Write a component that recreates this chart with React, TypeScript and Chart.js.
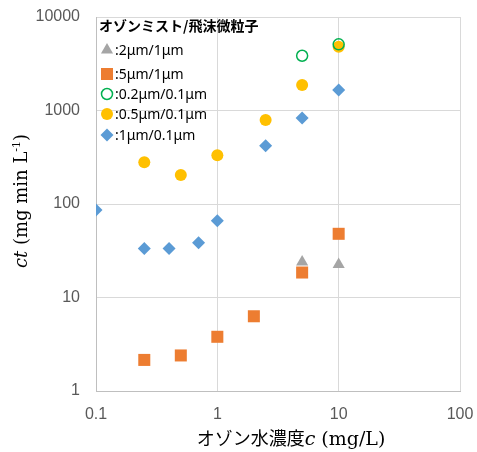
import React, { useEffect, useRef } from "react";
import { Chart, registerables } from "chart.js";

Chart.register(...registerables);

// ---- data ----
const triX = [5, 10];
const triY = [24, 22.5];
const sqX = [0.25, 0.5, 1, 2, 5, 10];
const sqY = [2.15, 2.4, 3.8, 6.3, 18.5, 48];
const greenX = [5, 10];
const greenY = [3850, 5100];
const yelX = [0.25, 0.5, 1, 2.5, 5, 10];
const yelY = [279, 204, 332, 790, 1870, 4800];
const blueX = [0.1, 0.25, 0.4, 0.7, 1, 2.5, 5, 10];
const blueY = [86, 33.5, 33.5, 38.5, 66, 420, 832, 1655];

const xTicks = [0.1, 1, 10, 100];
const yTicks = [1, 10, 100, 1000, 10000];

const legendTitle = "オゾンミスト/飛沫微粒子";
const seriesLabels = [":2μm/1μm", ":5μm/1μm", ":0.2μm/0.1μm", ":0.5μm/0.1μm", ":1μm/0.1μm"];

const toPts = (xs: number[], ys: number[]) => xs.map((x, i) => ({ x, y: ys[i] }));

const SANS = "'Liberation Sans', Arial, sans-serif";
const SERIF = "'DejaVu Serif', 'Liberation Serif', serif";
const CJK = "'Noto Sans CJK JP', sans-serif";

function drawMarker(ctx: CanvasRenderingContext2D, style: string, x: number, y: number, r: number, fill: string, stroke: string, lw: number) {
  ctx.save();
  ctx.beginPath();
  if (style === "triangle") {
    ctx.moveTo(x, y - r);
    ctx.lineTo(x + r * Math.sin((2 * Math.PI) / 3), y - r * Math.cos((2 * Math.PI) / 3));
    ctx.lineTo(x + r * Math.sin((4 * Math.PI) / 3), y - r * Math.cos((4 * Math.PI) / 3));
    ctx.closePath();
  } else if (style === "rect") {
    const s = r * Math.SQRT1_2;
    ctx.rect(x - s, y - s, 2 * s, 2 * s);
  } else if (style === "rectRot") {
    ctx.moveTo(x - r, y);
    ctx.lineTo(x, y - r);
    ctx.lineTo(x + r, y);
    ctx.lineTo(x, y + r);
    ctx.closePath();
  } else {
    ctx.arc(x, y, r, 0, Math.PI * 2);
  }
  if (fill && fill !== "transparent") {
    ctx.fillStyle = fill;
    ctx.fill();
  }
  if (lw > 0) {
    ctx.strokeStyle = stroke;
    ctx.lineWidth = lw;
    ctx.stroke();
  }
  ctx.restore();
}

type Seg = { text: string; font: string; sup?: boolean };

function drawSegs(ctx: CanvasRenderingContext2D, segs: Seg[], cx: number, cy: number) {
  let total = 0;
  const widths = segs.map((s) => {
    ctx.font = s.font;
    const w = ctx.measureText(s.text).width;
    total += w;
    return w;
  });
  let x = cx - total / 2;
  segs.forEach((s, i) => {
    ctx.font = s.font;
    ctx.textBaseline = "alphabetic";
    ctx.textAlign = "left";
    ctx.fillText(s.text, x, cy + (s.sup ? -7 : 0));
    x += widths[i];
  });
}

const overlayPlugin = {
  id: "overlay",
  afterDatasetsDraw(chart: any) {
    const ctx: CanvasRenderingContext2D = chart.ctx;
    ctx.save();
    ctx.fillStyle = "#000";
    ctx.font = `bold 14px ${CJK}`;
    ctx.textAlign = "left";
    ctx.textBaseline = "middle";
    ctx.fillText(legendTitle, 99, 26);
    const ys = [50, 74, 94, 114, 135];
    chart.data.datasets.forEach((ds: any, i: number) => {
      const y = ys[i];
      drawMarker(ctx, ds.pointStyle, 107, y, ds.pointRadius, ds.backgroundColor, ds.borderColor, ds.borderWidth);
      ctx.fillStyle = "#000";
      ctx.font = `14px 'Noto Sans', sans-serif`;
      ctx.textAlign = "left";
      ctx.textBaseline = "middle";
      ctx.fillText(seriesLabels[i], 115, y + 1);
    });
    ctx.restore();
  },
  afterDraw(chart: any) {
    const ctx: CanvasRenderingContext2D = chart.ctx;
    ctx.save();
    ctx.fillStyle = "#000";
    drawSegs(
      ctx,
      [
        { text: "オゾン水濃度", font: `18px ${CJK}` },
        { text: "c", font: `italic 19px ${SERIF}` },
        { text: " (mg/L)", font: `19px ${SERIF}` },
      ],
      291,
      445
    );
    ctx.translate(27, 201);
    ctx.rotate(-Math.PI / 2);
    drawSegs(
      ctx,
      [
        { text: "ct", font: `italic 18px ${SERIF}` },
        { text: " (mg min L", font: `18px ${SERIF}` },
        { text: "-1", font: `11px ${SERIF}`, sup: true },
        { text: ")", font: `18px ${SERIF}` },
      ],
      0,
      0
    );
    ctx.restore();
  },
};

export default function App() {
  const ref = useRef<HTMLCanvasElement>(null);
  useEffect(() => {
    if (!ref.current) return;
    const chart = new Chart(ref.current, {
      type: "scatter",
      data: {
        datasets: [
          { label: seriesLabels[0], data: toPts(triX, triY), pointStyle: "triangle", pointRadius: 7, backgroundColor: "#a5a5a5", borderColor: "#a5a5a5", borderWidth: 0, order: 1 },
          { label: seriesLabels[1], data: toPts(sqX, sqY), pointStyle: "rect", pointRadius: 8.5, backgroundColor: "#ed7d31", borderColor: "#ed7d31", borderWidth: 0, order: 2 },
          { label: seriesLabels[2], data: toPts(greenX, greenY), pointStyle: "circle", pointRadius: 5.5, backgroundColor: "transparent", borderColor: "#00b050", borderWidth: 1.5, order: 0 },
          { label: seriesLabels[3], data: toPts(yelX, yelY), pointStyle: "circle", pointRadius: 6, backgroundColor: "#ffc000", borderColor: "#ffc000", borderWidth: 0, order: 3 },
          { label: seriesLabels[4], data: toPts(blueX, blueY), pointStyle: "rectRot", pointRadius: 6.5, backgroundColor: "#5b9bd5", borderColor: "#5b9bd5", borderWidth: 0, order: 4 },
        ] as any,
      },
      options: {
        animation: false,
        responsive: false,
        layout: { padding: { top: 17, right: 17, left: 0, bottom: 0 } },
        plugins: { legend: { display: false }, tooltip: { enabled: false } },
        scales: {
          x: {
            type: "logarithmic",
            min: 0.1,
            max: 100,
            afterBuildTicks: (s: any) => {
              s.ticks = xTicks.map((v) => ({ value: v }));
            },
            afterFit: (s: any) => {
              s.height = 61;
              s.paddingLeft = 0;
              s.paddingRight = 0;
            },
            ticks: { callback: (v: any) => String(v), color: "#595959", font: { family: SANS, size: 16 }, padding: 14, maxRotation: 0, autoSkip: false },
            grid: { color: "#d9d9d9", drawTicks: false },
            border: { color: "#bfbfbf" },
          },
          y: {
            type: "logarithmic",
            min: 1,
            max: 10000,
            afterBuildTicks: (s: any) => {
              s.ticks = yTicks.map((v) => ({ value: v }));
            },
            afterFit: (s: any) => {
              s.width = 96;
              s.paddingTop = 0;
              s.paddingBottom = 0;
            },
            ticks: { callback: (v: any) => String(v), color: "#595959", font: { family: SANS, size: 16 }, padding: 16, autoSkip: false },
            grid: { color: "#d9d9d9", drawTicks: false },
            border: { color: "#bfbfbf" },
          },
        },
      } as any,
      plugins: [overlayPlugin],
    });
    return () => chart.destroy();
  }, []);
  return (
    <div style={{ position: "fixed", left: 0, top: 0, width: 477, height: 452, background: "#fff" }}>
      <canvas ref={ref} width={477} height={452} style={{ display: "block" }} />
    </div>
  );
}
